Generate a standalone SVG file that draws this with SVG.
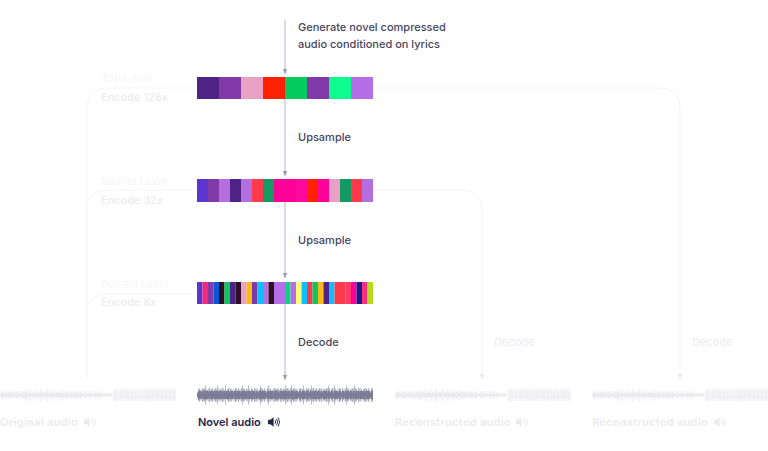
<svg xmlns="http://www.w3.org/2000/svg" width="768" height="451" viewBox="0 0 768 451">
<style>
text{font-family:Inter,"Liberation Sans",sans-serif;font-size:11px;font-weight:400}
.d{fill:#45455f;font-weight:500}
.f{fill:#ebebef}
.ff{fill:#f6f6f8}
.e{font-weight:500}
.b{fill:none;stroke:#f5f5f7;stroke-width:1}
.a{fill:none;stroke:#b4b4c4;stroke-width:1;marker-end:url(#ah)}
.af{fill:none;stroke:#f3f3f5;stroke-width:1;marker-end:url(#ahf)}
.w{font-weight:600;letter-spacing:.3px}
.s{fill:none}
.f1{stroke:#f3f3f5}
.f2{stroke:#ebebee}
.n1{stroke:#b9b9c8}
.n2{stroke:#9a9ab0}
.n3{stroke:#7c7c96}
</style>
<defs>
<marker id="ah" markerWidth="6" markerHeight="6" refX="5" refY="3" orient="auto" markerUnits="userSpaceOnUse"><path d="M0 .8L5 3L0 5.200z" fill="#9a9ab0"/></marker>
<marker id="ahf" markerWidth="6" markerHeight="6" refX="5" refY="3" orient="auto" markerUnits="userSpaceOnUse"><path d="M0 .8L5 3L0 5.200z" fill="#e8e8ec"/></marker>
<filter id="bl" filterUnits="userSpaceOnUse" x="-10" y="370" width="800" height="50"><feGaussianBlur stdDeviation=".55"/></filter>
<g id="icon"><path d="M0 2.800H2.400L5.600 .2V9.800L2.400 7.200H0z"/><path d="M7 3.200Q8.400 5 7 6.800M8.600 1.800Q10.800 5 8.600 8.200M10.200 .6Q13 5 10.200 9.400" fill="none" stroke="currentColor" stroke-width=".9"/></g>
<g id="wf" filter="url(#bl)" class="s">
<path class="f1" stroke-width="15" stroke-dasharray="1 9 1 6 1 12 1 4" d="M30 395H56M116 395H176"/>
<path class="f1" stroke-width="11" stroke-dasharray="1.500 1 1 2 2 1 1 1.500" d="M24 395H66M114 395H176"/>
<path class="f1" stroke-width="8" stroke-dasharray="2 1 1 1.500 3 1" d="M1 395H30M60 395H104"/>
<path class="f2" stroke-width="5" stroke-dasharray="3 1 2 1 4 1" d="M1 395H82"/>
<path class="f2" stroke-width="3" d="M0 395H112"/>
<path class="f2" stroke-width="8" stroke-dasharray="5 1 3 1 7 1 2 1" d="M113 395H176"/>
<path class="f1" stroke-width="12" d="M113 395H176" stroke-opacity=".7"/>
</g>
</defs>
<g id="connectors">
<path class="b" d="M87 378V108Q87 88 107 88H197"/>
<path class="b" d="M87 378V210Q87 190 107 190H197"/>
<path class="b" d="M87 378V314Q87 294 107 294H197"/>
<path class="af" d="M373 88H660Q680 88 680 108V379"/>
<path class="af" d="M373 190H462Q482 190 482 210V379"/>
<path class="a" d="M285 20V74"/>
<path class="a" d="M285 99V176"/>
<path class="a" d="M285 202V278"/>
<path class="a" d="M285 304V380"/>
</g>
<g id="top-bar">
<rect x="197" y="77" width="22" height="22" fill="#4f2385"/><rect x="219" y="77" width="22" height="22" fill="#823aa8"/><rect x="241" y="77" width="22" height="22" fill="#e8a0c4"/><rect x="263" y="77" width="22" height="22" fill="#ff2200"/><rect x="285" y="77" width="22" height="22" fill="#04cc5f"/><rect x="307" y="77" width="22" height="22" fill="#823aa8"/><rect x="329" y="77" width="22" height="22" fill="#0dfb8f"/><rect x="351" y="77" width="22" height="22" fill="#b56ee8"/>
</g>
<g id="middle-bar">
<rect x="197" y="179" width="11" height="23" fill="#5a35d0"/><rect x="208" y="179" width="11" height="23" fill="#823aa8"/><rect x="219" y="179" width="11" height="23" fill="#b56ee0"/><rect x="230" y="179" width="11" height="23" fill="#4f2385"/><rect x="241" y="179" width="11" height="23" fill="#b56ee0"/><rect x="252" y="179" width="11" height="23" fill="#ff3a4a"/><rect x="263" y="179" width="11" height="23" fill="#159a64"/><rect x="274" y="179" width="22" height="23" fill="#ff0099"/><rect x="296" y="179" width="11" height="23" fill="#ff0a9c"/><rect x="307" y="179" width="11" height="23" fill="#ff2200"/><rect x="318" y="179" width="11" height="23" fill="#ff0099"/><rect x="329" y="179" width="11" height="23" fill="#e8a0c4"/><rect x="340" y="179" width="11" height="23" fill="#159a64"/><rect x="351" y="179" width="11" height="23" fill="#ff3a4a"/><rect x="362" y="179" width="11" height="23" fill="#b56ee0"/>
</g>
<g id="bottom-bar">
<rect x="197" y="282" width="5.5" height="22" fill="#5a35d0"/><rect x="202.500" y="282" width="5.5" height="22" fill="#f5287f"/><rect x="208" y="282" width="5.5" height="22" fill="#823aa8"/><rect x="213.500" y="282" width="5.5" height="22" fill="#0a55d8"/><rect x="219" y="282" width="5.500" height="22" fill="#2a0e22"/><rect x="224.500" y="282" width="5.5" height="22" fill="#0ac85f"/><rect x="230" y="282" width="5.5" height="22" fill="#4f2385"/><rect x="235.500" y="282" width="5.5" height="22" fill="#2e0f2a"/><rect x="241" y="282" width="5.5" height="22" fill="#e8a0c4"/><rect x="246.500" y="282" width="5.5" height="22" fill="#ffb81c"/><rect x="252" y="282" width="5.5" height="22" fill="#7a3aa8"/><rect x="257.500" y="282" width="5.5" height="22" fill="#0ac0ff"/><rect x="263" y="282" width="5.5" height="22" fill="#b56ee8"/><rect x="268.500" y="282" width="5.5" height="22" fill="#2e0f22"/><rect x="274" y="282" width="11" height="22" fill="#b56ee8"/><rect x="285" y="282" width="5.5" height="22" fill="#0dd47f"/><rect x="290.500" y="282" width="5.5" height="22" fill="#b56ee8"/><rect x="296" y="282" width="5.5" height="22" fill="#fdfb7a"/><rect x="301.500" y="282" width="5.5" height="22" fill="#0ac0ff"/><rect x="307" y="282" width="5.5" height="22" fill="#ff3a4a"/><rect x="312.500" y="282" width="5.5" height="22" fill="#0ac85f"/><rect x="318" y="282" width="5.5" height="22" fill="#ffb81c"/><rect x="323.500" y="282" width="5.5" height="22" fill="#4f2385"/><rect x="329" y="282" width="5.5" height="22" fill="#0ac0ff"/><rect x="334.500" y="282" width="11" height="22" fill="#ff3a4a"/><rect x="345.500" y="282" width="5.5" height="22" fill="#ff3a6a"/><rect x="351" y="282" width="5.5" height="22" fill="#ff009a"/><rect x="356.500" y="282" width="5.5" height="22" fill="#1a1a8a"/><rect x="362" y="282" width="5.5" height="22" fill="#ff2d7e"/><rect x="367.500" y="282" width="5.5" height="22" fill="#b4dc1e"/>
</g>
<g id="labels">
<text class="d" x="298" y="31">Generate novel compressed</text>
<text class="d" x="298" y="48">audio conditioned on lyrics</text>
<text class="d" x="298" y="141">Upsample</text>
<text class="d" x="298" y="244">Upsample</text>
<text class="d" x="298" y="346">Decode</text>
<text class="f" x="494" y="346">Decode</text>
<text class="f" x="692" y="346">Decode</text>
<text class="ff" x="101" y="82">Top Level</text>
<text class="f e" x="101" y="101">Encode 128x</text>
<text class="ff" x="101" y="185">Middle Level</text>
<text class="f e" x="101" y="204">Encode 32x</text>
<text class="ff" x="101" y="288">Bottom Level</text>
<text class="f e" x="101" y="306">Encode 8x</text>
</g>
<g id="original-audio">
<use href="#wf"/>
<text class="f w" x="0" y="426">Original audio</text>
<use href="#icon" x="84" y="417" fill="#ebebef" color="#ebebef"/>
</g>
<g id="novel-audio">
<g filter="url(#bl)" class="s">
<path class="n1" stroke-width="19" stroke-dasharray="1 11 1 7 1 16 1 5" d="M205 395H370"/>
<path class="n1" stroke-width="14" stroke-dasharray="1 2 1.500 1 1 3 2 1.500" d="M199 395H373"/>
<path class="n2" stroke-width="11" stroke-dasharray="1.500 1 1 1.500 2 1" d="M198 395H373"/>
<path class="n3" stroke-width="8" stroke-dasharray="3 .6 2 .6 4 .6" d="M198 395H373"/>
<path class="n3" stroke-width="5" d="M197 395H373"/>
</g>
<text style="fill:#25254a;font-weight:600" x="198" y="426">Novel audio</text>
<use href="#icon" x="268" y="417" fill="#25254a" color="#25254a"/>
</g>
<g id="reconstructed-1">
<use href="#wf" x="395"/>
<text class="f w" x="395" y="426">Reconstructed audio</text>
<use href="#icon" x="516" y="417" fill="#ebebef" color="#ebebef"/>
</g>
<g id="reconstructed-2">
<use href="#wf" x="592"/>
<text class="f w" x="592" y="426">Reconstructed audio</text>
<use href="#icon" x="714" y="417" fill="#ebebef" color="#ebebef"/>
</g>
</svg>
